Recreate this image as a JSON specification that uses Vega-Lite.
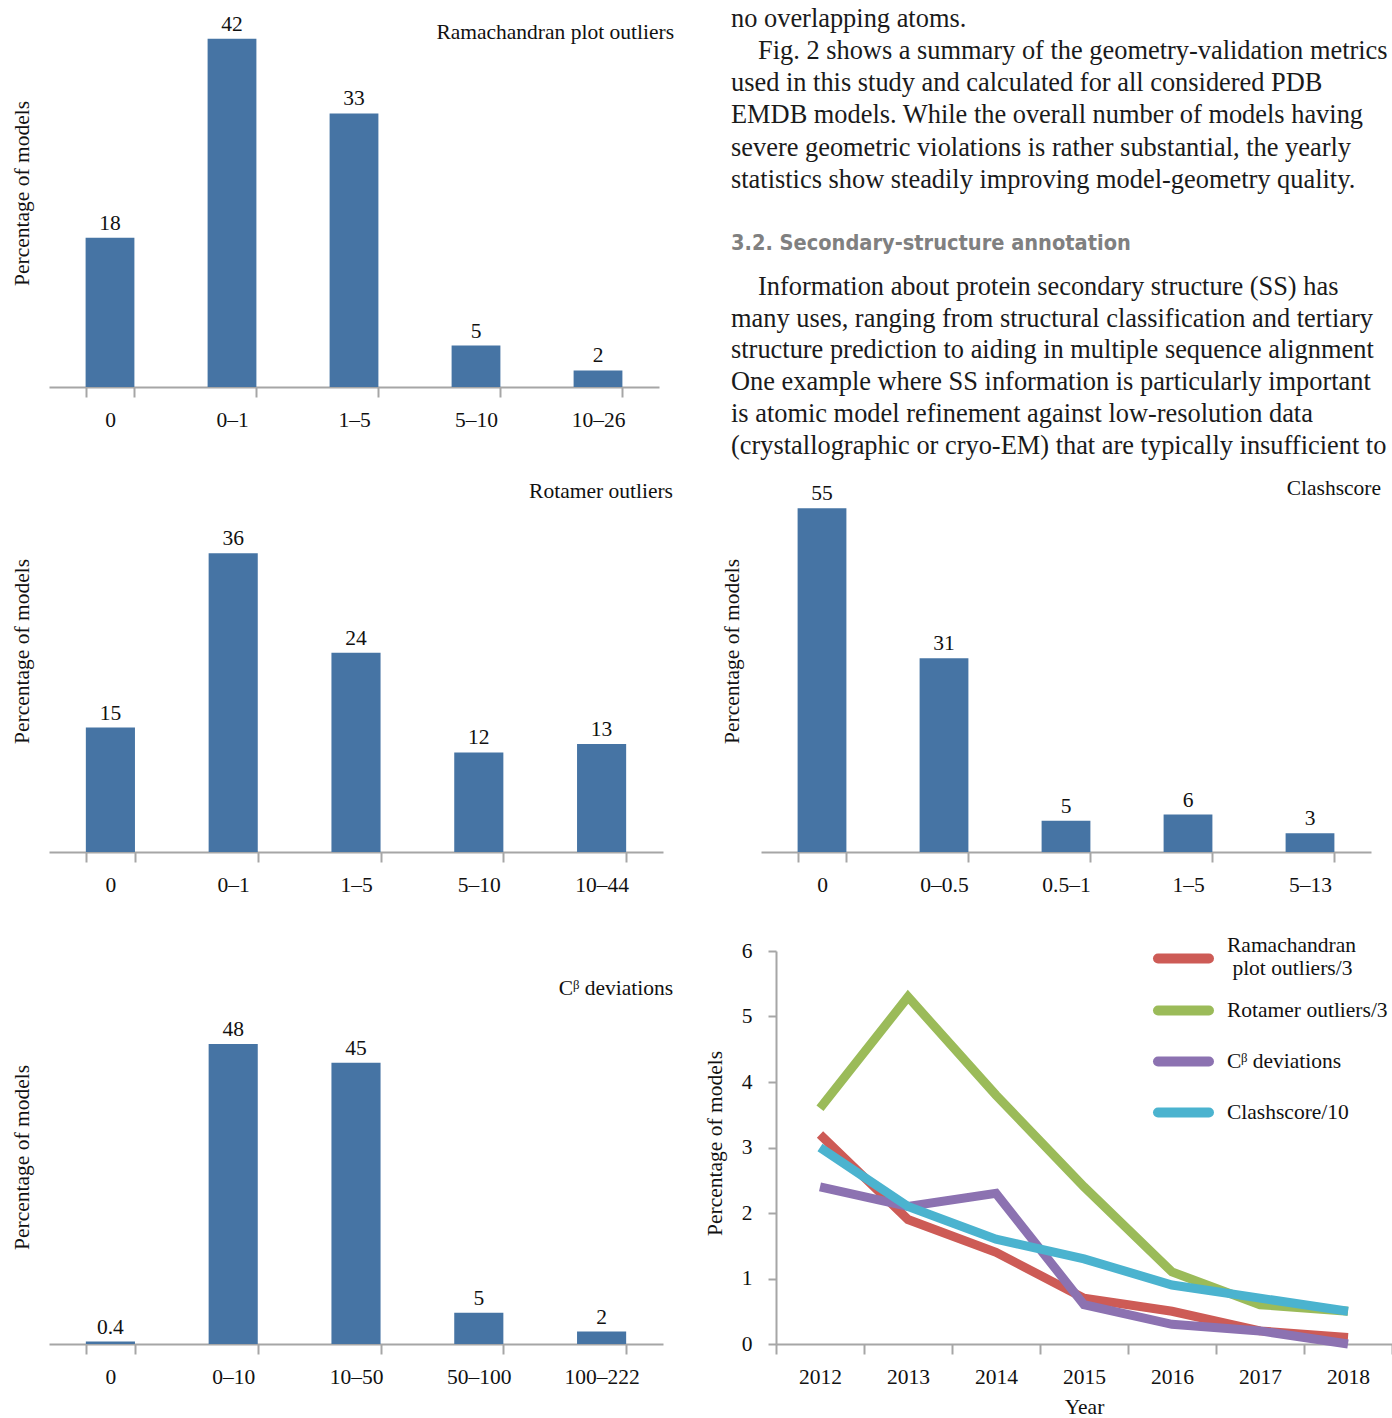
{
  "$schema": "https://vega.github.io/schema/vega-lite/v6.json",
  "background": "white",
  "padding": {"left": 11, "top": 0, "right": 0, "bottom": 0},
  "columns": 2,
  "align": "none",
  "bounds": "flush",
  "spacing": {"row": 99, "column": 72},
  "concat": [
    {
      "width": 610,
      "height": 387,
      "title": {"text": "Ramachandran plot outliers", "offset": -43, "dx": 15},
      "data": {"values": [
        {"bin": "0", "pct": 18},
        {"bin": "0–1", "pct": 42},
        {"bin": "1–5", "pct": 33},
        {"bin": "5–10", "pct": 5},
        {"bin": "10–26", "pct": 2}
      ]},
      "encoding": {
        "x": {"field": "bin", "type": "nominal", "sort": null, "scale": {"paddingInner": 0.6, "paddingOuter": 0.3}, "axis": {"title": null, "labelAngle": 0, "tickBand": "extent", "tickSize": 10, "labelPadding": 12}},
        "y": {"field": "pct", "type": "quantitative", "scale": {"domain": [0, 46.68], "nice": false}, "axis": {"domain": false, "ticks": false, "labels": false, "title": "Percentage of models", "titleX": -16, "titleY": 193}}
      },
      "layer": [
        {"mark": {"type": "bar", "color": "#4674a4"}},
        {"mark": {"type": "text", "baseline": "bottom", "dy": -3, "fontSize": 21.5, "color": "#111"}, "encoding": {"text": {"field": "pct"}}}
      ]
    },
    {
      "width": 600,
      "height": 387,
      "data": {"values": [
        {"line": 0, "kind": "body", "text": "no overlapping atoms."},
        {"line": 1, "kind": "first", "text": "Fig. 2 shows a summary of the geometry-validation metrics"},
        {"line": 2, "kind": "body", "text": "used in this study and calculated for all considered PDB"},
        {"line": 3, "kind": "body", "text": "EMDB models. While the overall number of models having"},
        {"line": 4, "kind": "body", "text": "severe geometric violations is rather substantial, the yearly"},
        {"line": 5, "kind": "body", "text": "statistics show steadily improving model-geometry quality."},
        {"line": 7, "kind": "head", "text": "3.2. Secondary-structure annotation"},
        {"line": 8.34, "kind": "first", "text": "Information about protein secondary structure (SS) has"},
        {"line": 9.33, "kind": "body", "text": "many uses, ranging from structural classification and tertiary"},
        {"line": 10.3, "kind": "body", "text": "structure prediction to aiding in multiple sequence alignment"},
        {"line": 11.3, "kind": "body", "text": "One example where SS information is particularly important"},
        {"line": 12.3, "kind": "body", "text": "is atomic model refinement against low-resolution data"},
        {"line": 13.28, "kind": "body", "text": "(crystallographic or cryo-EM) that are typically insufficient to"}
      ]},
      "encoding": {
        "x": {"datum": 0, "type": "quantitative", "scale": {"domain": [0, 1], "range": [-45, 555], "nice": false}, "axis": null},
        "y": {"field": "line", "type": "quantitative", "scale": {"domain": [-0.591, 11.446], "reverse": true, "nice": false, "zero": false}, "axis": null},
        "text": {"field": "text"}
      },
      "layer": [
        {"transform": [{"filter": "datum.kind == 'body'"}], "mark": {"type": "text", "align": "left", "baseline": "middle", "font": "Liberation Serif", "fontSize": 26.4, "color": "#1a1a1a"}},
        {"transform": [{"filter": "datum.kind == 'first'"}], "mark": {"type": "text", "align": "left", "baseline": "middle", "dx": 27, "font": "Liberation Serif", "fontSize": 26.4, "color": "#1a1a1a"}},
        {"transform": [{"filter": "datum.kind == 'head'"}], "mark": {"type": "text", "align": "left", "baseline": "middle", "font": "Liberation Sans Narrow, DejaVu Sans Condensed, sans-serif", "fontWeight": "bold", "fontSize": 21.6, "color": "#808080"}}
      ]
    },
    {
      "width": 640,
      "height": 366,
      "title": {"text": "Rotamer outliers", "offset": -16, "dx": -16},
      "data": {"values": [
        {"bin": "0", "pct": 15},
        {"bin": "0–1", "pct": 36},
        {"bin": "1–5", "pct": 24},
        {"bin": "5–10", "pct": 12},
        {"bin": "10–44", "pct": 13}
      ]},
      "encoding": {
        "x": {"field": "bin", "type": "nominal", "sort": null, "scale": {"range": [0, 614], "paddingInner": 0.6, "paddingOuter": 0.3}, "axis": {"title": null, "labelAngle": 0, "tickBand": "extent", "tickSize": 10, "labelPadding": 12}},
        "y": {"field": "pct", "type": "quantitative", "scale": {"domain": [0, 44.1], "nice": false}, "axis": {"domain": false, "ticks": false, "labels": false, "title": "Percentage of models", "titleX": -16, "titleY": 165}}
      },
      "layer": [
        {"mark": {"type": "bar", "color": "#4674a4"}},
        {"mark": {"type": "text", "baseline": "bottom", "dy": -3, "fontSize": 21.5, "color": "#111"}, "encoding": {"text": {"field": "pct"}}}
      ]
    },
    {
      "width": 610,
      "height": 366,
      "title": {"text": "Clashscore", "offset": -16, "dx": -5},
      "data": {"values": [
        {"bin": "0", "pct": 55},
        {"bin": "0–0.5", "pct": 31},
        {"bin": "0.5–1", "pct": 5},
        {"bin": "1–5", "pct": 6},
        {"bin": "5–13", "pct": 3}
      ]},
      "encoding": {
        "x": {"field": "bin", "type": "nominal", "sort": null, "scale": {"range": [-15, 595], "paddingInner": 0.6, "paddingOuter": 0.3}, "axis": {"title": null, "labelAngle": 0, "tickBand": "extent", "tickSize": 10, "labelPadding": 12}},
        "y": {"field": "pct", "type": "quantitative", "scale": {"domain": [0, 58.56], "nice": false}, "axis": {"domain": false, "ticks": false, "labels": false, "title": "Percentage of models", "titleX": -33, "titleY": 165}}
      },
      "layer": [
        {"mark": {"type": "bar", "color": "#4674a4"}},
        {"mark": {"type": "text", "baseline": "bottom", "dy": -3, "fontSize": 21.5, "color": "#111"}, "encoding": {"text": {"field": "pct"}}}
      ]
    },
    {
      "width": 655,
      "height": 393,
      "title": {"text": "Cᵝ deviations", "offset": -48, "dx": -31},
      "data": {"values": [
        {"bin": "0", "pct": 0.4},
        {"bin": "0–10", "pct": 48},
        {"bin": "10–50", "pct": 45},
        {"bin": "50–100", "pct": 5},
        {"bin": "100–222", "pct": 2}
      ]},
      "encoding": {
        "x": {"field": "bin", "type": "nominal", "sort": null, "scale": {"range": [0, 614], "paddingInner": 0.6, "paddingOuter": 0.3}, "axis": {"title": null, "labelAngle": 0, "tickBand": "extent", "tickSize": 10, "labelPadding": 12}},
        "y": {"field": "pct", "type": "quantitative", "scale": {"domain": [0, 62.88], "nice": false}, "axis": {"domain": false, "ticks": false, "labels": false, "title": "Percentage of models", "titleX": -16, "titleY": 206}}
      },
      "layer": [
        {"mark": {"type": "bar", "color": "#4674a4"}},
        {"mark": {"type": "text", "baseline": "bottom", "dy": -3, "fontSize": 21.5, "color": "#111"}, "encoding": {"text": {"field": "pct"}}}
      ]
    },
    {
      "width": 616,
      "height": 393,
      "data": {"values": [
        {"year": "2012", "series": "Ramachandran plot outliers/3", "value": 3.2},
        {"year": "2013", "series": "Ramachandran plot outliers/3", "value": 1.9},
        {"year": "2014", "series": "Ramachandran plot outliers/3", "value": 1.4},
        {"year": "2015", "series": "Ramachandran plot outliers/3", "value": 0.7},
        {"year": "2016", "series": "Ramachandran plot outliers/3", "value": 0.5},
        {"year": "2017", "series": "Ramachandran plot outliers/3", "value": 0.2},
        {"year": "2018", "series": "Ramachandran plot outliers/3", "value": 0.1},
        {"year": "2012", "series": "Rotamer outliers/3", "value": 3.6},
        {"year": "2013", "series": "Rotamer outliers/3", "value": 5.3},
        {"year": "2014", "series": "Rotamer outliers/3", "value": 3.8},
        {"year": "2015", "series": "Rotamer outliers/3", "value": 2.4},
        {"year": "2016", "series": "Rotamer outliers/3", "value": 1.1},
        {"year": "2017", "series": "Rotamer outliers/3", "value": 0.6},
        {"year": "2018", "series": "Rotamer outliers/3", "value": 0.5},
        {"year": "2012", "series": "Cᵝ deviations", "value": 2.4},
        {"year": "2013", "series": "Cᵝ deviations", "value": 2.1},
        {"year": "2014", "series": "Cᵝ deviations", "value": 2.3},
        {"year": "2015", "series": "Cᵝ deviations", "value": 0.6},
        {"year": "2016", "series": "Cᵝ deviations", "value": 0.3},
        {"year": "2017", "series": "Cᵝ deviations", "value": 0.2},
        {"year": "2018", "series": "Cᵝ deviations", "value": 0.0},
        {"year": "2012", "series": "Clashscore/10", "value": 3.0},
        {"year": "2013", "series": "Clashscore/10", "value": 2.1},
        {"year": "2014", "series": "Clashscore/10", "value": 1.6},
        {"year": "2015", "series": "Clashscore/10", "value": 1.3},
        {"year": "2016", "series": "Clashscore/10", "value": 0.9},
        {"year": "2017", "series": "Clashscore/10", "value": 0.7},
        {"year": "2018", "series": "Clashscore/10", "value": 0.5}
      ]},
      "mark": {"type": "line", "strokeWidth": 9},
      "encoding": {
        "x": {"field": "year", "type": "ordinal", "bandPosition": 0.5, "scale": {"type": "band", "paddingInner": 0, "paddingOuter": 0}, "axis": {"title": "Year", "labelAngle": 0, "tickBand": "extent", "tickSize": 10, "labelPadding": 12, "titlePadding": 9}},
        "y": {"field": "value", "type": "quantitative", "scale": {"domain": [0, 6], "nice": false}, "axis": {"values": [0, 1, 2, 3, 4, 5, 6], "tickSize": 8, "labelPadding": 16, "title": "Percentage of models", "titleX": -50, "titleY": 192}},
        "color": {
          "field": "series", "type": "nominal",
          "sort": ["Ramachandran plot outliers/3", "Rotamer outliers/3", "Cᵝ deviations", "Clashscore/10"],
          "scale": {"domain": ["Ramachandran plot outliers/3", "Rotamer outliers/3", "Cᵝ deviations", "Clashscore/10"], "range": ["#cd5b56", "#9bbb59", "#8c72b1", "#4bb3cf"]},
          "legend": {
            "title": null, "orient": "none", "legendX": 1104, "legendY": 928, "padding": 0,
            "symbolType": "stroke", "symbolStrokeWidth": 10, "symbolSize": 2600,
            "labelFont": "Liberation Serif", "labelFontSize": 21.5, "labelColor": "#111", "labelLimit": 400, "labelOffset": 13,
            "rowPadding": 0,
            "labelExpr": "datum.label == 'Ramachandran plot outliers/3' ? ['Ramachandran', '\u200b plot outliers/3'] : datum.label",
            "encode": {
              "symbols": {"update": {"strokeCap": {"value": "round"}}},
              "labels": {"update": {"dy": {"signal": "datum.label == 'Ramachandran plot outliers/3' ? -13 : 0"}}}
            }
          }
        }
      }
    }
  ],
  "config": {
    "font": "Liberation Serif",
    "view": {"stroke": null},
    "title": {"anchor": "end", "frame": "group", "baseline": "middle", "font": "Liberation Serif", "fontSize": 21.5, "fontWeight": "normal", "color": "#111"},
    "axis": {"domainColor": "#a6a6a6", "domainWidth": 2, "tickColor": "#a6a6a6", "tickWidth": 2, "grid": false, "labelFont": "Liberation Serif", "labelFontSize": 21.5, "labelColor": "#111", "titleFont": "Liberation Serif", "titleFontSize": 21.5, "titleFontWeight": "normal", "titleColor": "#111"}
  }
}
